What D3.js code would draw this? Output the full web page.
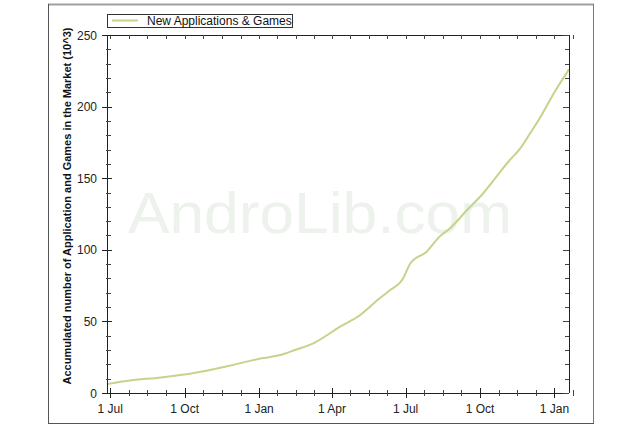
<!DOCTYPE html>
<html><head><meta charset="utf-8">
<script src="https://cdn.jsdelivr.net/npm/d3@7"></script>
<style>
html,body{margin:0;padding:0;background:#fff;}
svg{display:block;font-family:"Liberation Sans",Arial,sans-serif;}
</style></head>
<body>
<svg id="c" width="640" height="430"></svg>
<script>
// ---- data ----
const seriesName = "New Applications & Games";
const dates = ["2008-06-27","2008-07-23","2008-09-02","2008-10-14","2008-11-24","2009-01-04","2009-01-27","2009-02-14","2009-03-09","2009-04-11","2009-05-06","2009-05-30","2009-06-12","2009-06-28","2009-06-30","2009-07-07","2009-07-27","2009-08-12","2009-08-25","2009-09-15","2009-10-05","2009-10-18","2009-11-05","2009-11-20","2009-12-01","2009-12-14","2010-01-01","2010-01-19"];
const values = [6.2,8.6,10.9,14.2,18.9,24.2,26.5,30.0,34.7,46.3,54.5,66.1,71.9,80.1,82.4,90.6,98.7,109.2,115.0,127.8,139.5,148.7,161.5,171.0,180.5,192.0,210.0,226.0];
const xMajorTicks = ["2008-07-01","2008-10-01","2009-01-01","2009-04-01","2009-07-01","2009-10-01","2010-01-01"];
const xTickLabels = ["1 Jul","1 Oct","1 Jan","1 Apr","1 Jul","1 Oct","1 Jan"];
const yMajorTicks = [0,50,100,150,200,250];
const yMinorTicks = d3.range(0,251,10);
const xDomain = ["2008-06-27","2010-01-19"];
const yTitle = "Accumulated number of Application and Games in the Market (10^3)";
const watermark = "AndroLib.com";

const parse = d3.timeParse("%Y-%m-%d");
const data = dates.map((d,i)=>({date:parse(d), value:values[i]}));
const majors = xMajorTicks.map(parse);
// minor ticks: 3 evenly spaced between majors
const minors = [];
for (let i=0;i<majors.length-1;i++){
  const a=+majors[i], b=+majors[i+1];
  for (let k=1;k<4;k++) minors.push(new Date(a+(b-a)*k/4));
}
minors.push(new Date(+majors[majors.length-1] + (+majors[1]-+majors[0])/4));

const L=107, R=569, T=35, B=393;
const x = d3.scaleTime().domain(xDomain.map(parse)).range([L,R]);
const y = d3.scaleLinear().domain([0,250]).range([B,T]);

const svg = d3.select("#c");
const lineCol = "#c3d48b", axisCol = "#222";

// outer frame
svg.append("line").attr("x1",48).attr("x2",594).attr("y1",4.5).attr("y2",4.5).attr("stroke","#a0a0a0").attr("stroke-width",2);
svg.append("line").attr("x1",48.5).attr("x2",48.5).attr("y1",4).attr("y2",423.5).attr("stroke","#555");
svg.append("line").attr("x1",593.5).attr("x2",593.5).attr("y1",4).attr("y2",423.5).attr("stroke","#777");
svg.append("line").attr("x1",48).attr("x2",594).attr("y1",423.5).attr("y2",423.5).attr("stroke","#555");

// watermark
svg.append("text").attr("x",320).attr("y",233).attr("text-anchor","middle")
  .attr("font-size",58).attr("fill","#edf2ec")
  .attr("textLength",384).attr("lengthAdjust","spacingAndGlyphs")
  .text(watermark);

// line
svg.append("path").datum(data)
  .attr("fill","none").attr("stroke",lineCol).attr("stroke-width",2)
  .attr("stroke-linejoin","round")
  .attr("d", d3.line().curve(d3.curveMonotoneX).x(d=>x(d.date)).y(d=>y(d.value)));

// plot box
const g = svg.append("g").attr("stroke",axisCol).attr("stroke-width",1).attr("shape-rendering","crispEdges");
g.append("line").attr("x1",L).attr("x2",L).attr("y1",T).attr("y2",B);
g.append("line").attr("x1",L).attr("x2",R).attr("y1",B).attr("y2",B);
g.append("line").attr("x1",R).attr("x2",R).attr("y1",T).attr("y2",B);
g.append("line").attr("x1",L).attr("x2",R).attr("y1",T).attr("y2",T);

// bottom axis ticks
g.selectAll(".xmaj").data(majors).enter().append("line")
  .attr("x1",d=>Math.round(x(d))).attr("x2",d=>Math.round(x(d))).attr("y1",B-5).attr("y2",B+5);
g.selectAll(".xmin").data(minors).enter().append("line")
  .attr("x1",d=>Math.round(x(d))).attr("x2",d=>Math.round(x(d))).attr("y1",B-3).attr("y2",B+3).attr("stroke","#444");
// top axis ticks
g.selectAll(".xtop").data(majors.concat(minors)).enter().append("line")
  .attr("x1",d=>Math.round(x(d))).attr("x2",d=>Math.round(x(d))).attr("y1",T).attr("y2",T+4).attr("stroke","#444");
// left axis ticks
g.selectAll(".ymin").data(yMinorTicks.filter(v=>v%50)).enter().append("line")
  .attr("x1",L-1).attr("x2",L+4).attr("y1",d=>Math.round(y(d))).attr("y2",d=>Math.round(y(d))).attr("stroke","#444");
g.selectAll(".ymaj").data(yMajorTicks).enter().append("line")
  .attr("x1",L-5).attr("x2",L+5).attr("y1",d=>Math.round(y(d))).attr("y2",d=>Math.round(y(d)));
// right axis ticks
g.selectAll(".yr").data(yMinorTicks).enter().append("line")
  .attr("x1",d=>d%50?R-4:R-6).attr("x2",R).attr("y1",d=>Math.round(y(d))).attr("y2",d=>Math.round(y(d))).attr("stroke","#444");

// tick labels
svg.selectAll(".xl").data(majors).enter().append("text")
  .attr("x",d=>x(d)).attr("y",413).attr("text-anchor","middle")
  .attr("font-size",12).attr("fill","#222").text((d,i)=>xTickLabels[i]);
svg.selectAll(".yl").data(yMajorTicks).enter().append("text")
  .attr("x",97).attr("y",d=>y(d)+4.5).attr("text-anchor","end")
  .attr("font-size",12).attr("fill","#222").text(d=>d);

// y title
svg.append("text").attr("transform","translate(71,206) rotate(-90)")
  .attr("text-anchor","middle").attr("font-size",11).attr("font-weight","bold").attr("fill","#111")
  .text(yTitle);

// legend
svg.append("rect").attr("x",107.5).attr("y",14.5).attr("width",185).attr("height",13)
  .attr("fill","#fff").attr("stroke","#333");
svg.append("line").attr("x1",112).attr("x2",138).attr("y1",20.5).attr("y2",20.5)
  .attr("stroke",lineCol).attr("stroke-width",2);
svg.append("text").attr("x",147).attr("y",25).attr("font-size",12).attr("fill","#111").text(seriesName);
</script>
</body></html>
